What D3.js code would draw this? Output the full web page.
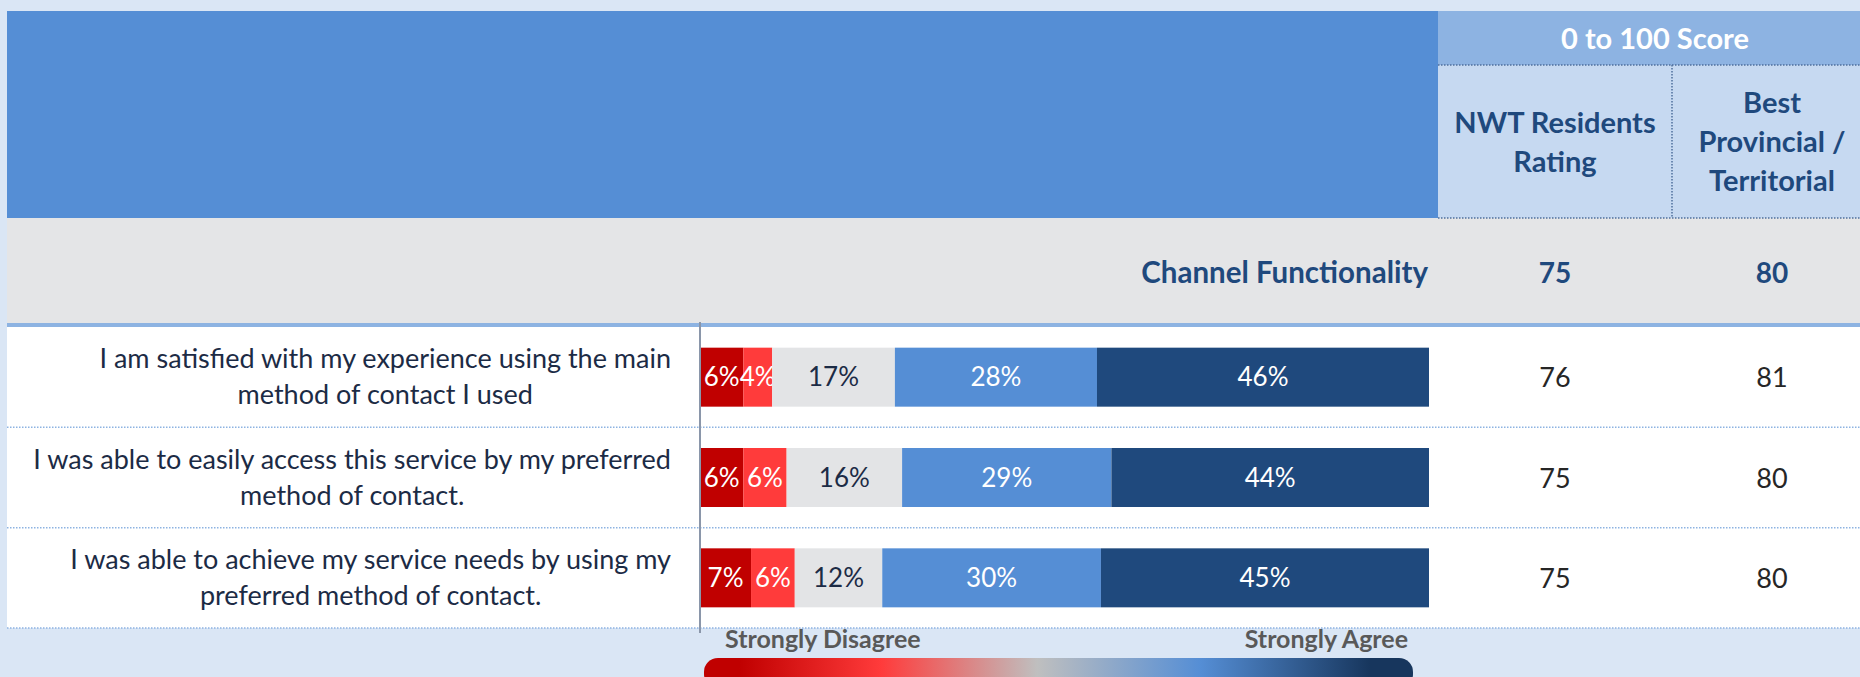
<!DOCTYPE html>
<html>
<head>
<meta charset="utf-8">
<script src="https://cdn.jsdelivr.net/npm/d3@7"></script>
<style>
  html, body { margin: 0; padding: 0; background: #dae6f5; }
  svg { display: block; font-family: Lato, "Open Sans", sans-serif; }
</style>
</head>
<body>
<svg id="chart" width="1860" height="677"></svg>
<script>
const questions = [
  ["I am satisfied with my experience using the main", "method of contact I used"],
  ["I was able to easily access this service by my preferred", "method of contact."],
  ["I was able to achieve my service needs by using my", "preferred method of contact."]
];
const levels = ["sd", "d", "n", "a", "sa"];
const stronglyDisagree = [6, 6, 7];
const disagree = [4, 6, 6];
const neutral = [17, 16, 12];
const agree = [28, 29, 30];
const stronglyAgree = [46, 44, 45];
const nwtRating = [76, 75, 75];
const bestRating = [81, 80, 80];
const sectionName = "Channel Functionality";
const sectionScores = [75, 80];
const scoreHeader = "0 to 100 Score";
const colHeaders = [["NWT Residents", "Rating"], ["Best", "Provincial /", "Territorial"]];
const legendLabels = ["Strongly Disagree", "Strongly Agree"];

const W = 1860, H = 677;
const svg = d3.select("#chart");

const colors = { sd: "#c00000", d: "#ff3b3b", n: "#e3e4e6", a: "#558ed5", sa: "#1f497d" };
const textColors = { sd: "#fff", d: "#fff", n: "#1c2b45", a: "#fff", sa: "#fff" };

const rows = questions.map((q, i) => ({
  key: i, q: q,
  sd: stronglyDisagree[i], d: disagree[i], n: neutral[i], a: agree[i], sa: stronglyAgree[i],
  nwt: nwtRating[i], best: bestRating[i]
}));

// table frame
const left = 7, headTop = 11, headBottom = 218, bandBottom = 323, bodyTop = 327, bodyBottom = 628;
const scoreLeft = 1438, colSplit = 1672;
const colX = [1555, 1772];

svg.append("rect").attr("x", left).attr("y", headTop).attr("width", scoreLeft - left).attr("height", headBottom - headTop).attr("fill", "#558ed5");
svg.append("rect").attr("x", scoreLeft).attr("y", headTop).attr("width", W - scoreLeft).attr("height", 54).attr("fill", "#8db3e2");
svg.append("rect").attr("x", scoreLeft).attr("y", 65).attr("width", W - scoreLeft).attr("height", headBottom - 65).attr("fill", "#c6d9f1");
svg.append("rect").attr("x", left).attr("y", headBottom).attr("width", W - left).attr("height", bandBottom - headBottom).attr("fill", "#e4e5e7");
svg.append("rect").attr("x", left).attr("y", bandBottom).attr("width", W - left).attr("height", bodyTop - bandBottom).attr("fill", "#8db3e2");
svg.append("rect").attr("x", left).attr("y", bodyTop).attr("width", W - left).attr("height", bodyBottom - bodyTop).attr("fill", "#fff");

const dot = (x1, y1, x2, y2, color) => svg.append("line")
  .attr("x1", x1).attr("y1", y1).attr("x2", x2).attr("y2", y2)
  .attr("stroke", color).attr("stroke-width", 1.5).attr("stroke-dasharray", "1.5,1.5");
dot(scoreLeft, 65, W, 65, "#4f6f9c");
dot(colSplit, 65, colSplit, headBottom, "#4f6f9c");
dot(scoreLeft, headBottom, W, headBottom, "#4f6f9c");

// header texts
svg.append("text").attr("x", 1655).attr("y", 49).attr("text-anchor", "middle")
  .attr("fill", "#fff").attr("font-weight", "bold").attr("font-size", 29).text(scoreHeader);

const headerLineY = [[133, 172], [113, 152, 191]];
colHeaders.forEach((lines, c) => {
  lines.forEach((l, j) => {
    svg.append("text").attr("x", colX[c]).attr("y", headerLineY[c][j]).attr("text-anchor", "middle")
      .attr("fill", "#1f497d").attr("font-weight", "bold").attr("font-size", 29).text(l);
  });
});

// section row
svg.append("text").attr("x", 1428).attr("y", 283).attr("text-anchor", "end")
  .attr("fill", "#1f497d").attr("font-weight", "bold").attr("font-size", 29.5).text(sectionName);
sectionScores.forEach((s, c) => {
  svg.append("text").attr("x", colX[c]).attr("y", 283).attr("text-anchor", "middle")
    .attr("fill", "#1f497d").attr("font-weight", "bold").attr("font-size", 28).text(s);
});

// scales
const y = d3.scaleBand().domain(rows.map(d => d.key)).range([bodyTop, bodyBottom]);
const x = d3.scaleLinear().domain([0, 1]).range([700, 1429]);
const barH = 59;

// row separators
rows.forEach(d => dot(left, y(d.key) + y.bandwidth(), W, y(d.key) + y.bandwidth(), "#8db3e2"));

const stack = d3.stack().keys(levels).offset(d3.stackOffsetExpand);
const series = stack(rows);

const g = svg.append("g");
series.forEach(s => {
  const key = s.key;
  g.selectAll(null).data(s).enter().append("rect")
    .attr("x", d => x(d[0]))
    .attr("y", d => y(d.data.key) + (y.bandwidth() - barH) / 2)
    .attr("width", d => x(d[1]) - x(d[0]))
    .attr("height", barH)
    .attr("fill", colors[key]);
  g.selectAll(null).data(s).enter().append("text")
    .attr("x", d => (x(d[0]) + x(d[1])) / 2)
    .attr("y", d => y(d.data.key) + y.bandwidth() / 2 + 9)
    .attr("text-anchor", "middle")
    .attr("font-size", 26)
    .attr("fill", textColors[key])
    .text(d => d.data[key] + "%");
});

// axis line
svg.append("line").attr("x1", 700).attr("x2", 700).attr("y1", 322).attr("y2", 633)
  .attr("stroke", "#8a96aa").attr("stroke-width", 2);

// question labels: block right aligned, lines centred within block
rows.forEach(d => {
  const cy = y(d.key) + y.bandwidth() / 2;
  const texts = d.q.map((l, j) => svg.append("text")
    .attr("y", cy - 9 + j * 36)
    .attr("text-anchor", "middle")
    .attr("font-size", 27)
    .attr("fill", "#1c2b45").text(l));
  const wMax = d3.max(texts, t => t.node().getComputedTextLength());
  texts.forEach(t => t.attr("x", 671 - wMax / 2));
});

// score values
rows.forEach(d => {
  [d.nwt, d.best].forEach((v, c) => {
    svg.append("text").attr("x", colX[c]).attr("y", y(d.key) + y.bandwidth() / 2 + 10)
      .attr("text-anchor", "middle").attr("font-size", 27).attr("fill", "#262626").text(v);
  });
});

// legend
svg.append("text").attr("x", 725).attr("y", 648).attr("font-size", 25).attr("font-weight", "bold")
  .attr("fill", "#595959").text(legendLabels[0]);
svg.append("text").attr("x", 1408).attr("y", 648).attr("text-anchor", "end").attr("font-size", 25)
  .attr("font-weight", "bold").attr("fill", "#595959").text(legendLabels[1]);

const grad = svg.append("defs").append("linearGradient").attr("id", "lg");
[[0.05, "#c00000"], [0.25, "#ff3b3b"], [0.47, "#bfbfbf"], [0.7, "#558ed5"], [0.94, "#17365d"]]
  .forEach(([o, c]) => grad.append("stop").attr("offset", o).attr("stop-color", c));
svg.append("rect").attr("x", 704).attr("y", 658).attr("width", 709).attr("height", 30).attr("rx", 14)
  .attr("fill", "url(#lg)");
</script>
</body>
</html>
